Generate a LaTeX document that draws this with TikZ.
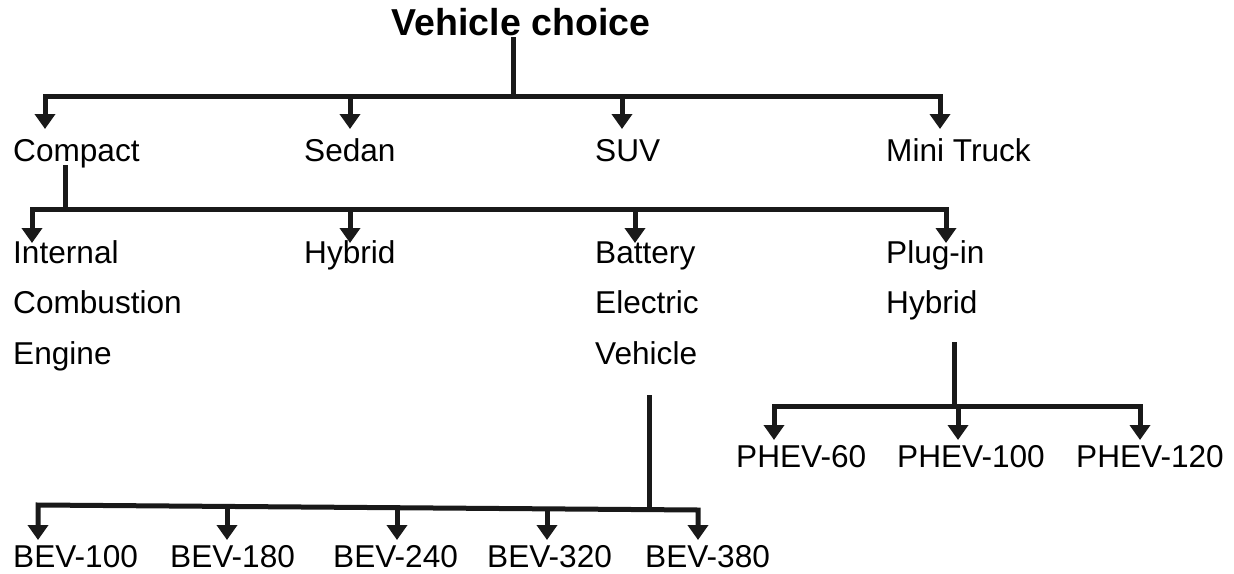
\documentclass[tikz,border=0pt]{standalone}
\usepackage{fontspec}
\setmainfont{Liberation Sans}
\usetikzlibrary{arrows.meta}
\begin{document}
\begin{tikzpicture}[x=1pt,y=-1pt,
  lbl/.style={anchor=base west, inner sep=0pt, font=\fontsize{31.6}{50.5}\selectfont, align=left},
  ttl/.style={anchor=base, inner sep=0pt, font=\bfseries\fontsize{37.5}{44}\selectfont},
  bus/.style={line width=5pt, line join=miter, draw=black!90},
  arr/.style={bus, -{Triangle[width=20pt,length=15pt]}},
  arrs/.style={bus, {Triangle[width=20pt,length=15pt]}-{Triangle[width=20pt,length=15pt]}}]
\useasboundingbox (0,0) rectangle (1234,573);

% texts (multi-line nodes are placed by the baseline of their last line)
\node[ttl] (title) at (521,35) {Vehicle choice};
\node[lbl] (compact) at (13,161) {Compact};
\node[lbl] (sedan) at (304,161) {Sedan};
\node[lbl] (suv) at (595,161) {SUV};
\node[lbl] (truck) at (886,161) {Mini Truck};
\node[lbl] (ice) at (13,364) {Internal\\Combustion\\Engine};
\node[lbl] (hybrid) at (304,263) {Hybrid};
\node[lbl] (bev) at (595,364) {Battery\\Electric\\Vehicle};
\node[lbl] (phev) at (886,313.5) {Plug-in\\Hybrid};
\node[lbl] (p60) at (736,467) {PHEV-60};
\node[lbl] (p100) at (897,467) {PHEV-100};
\node[lbl] (p120) at (1076,467) {PHEV-120};
\node[lbl] (b100) at (13,567) {BEV-100};
\node[lbl] (b180) at (170,567) {BEV-180};
\node[lbl] (b240) at (333,567) {BEV-240};
\node[lbl] (b320) at (487,567) {BEV-320};
\node[lbl] (b380) at (645,567) {BEV-380};

% level 1
\coordinate (t0) at (513,37);
\coordinate (t1) at (513,96);
\coordinate (a1) at (45,129);
\coordinate (a2) at (350,129);
\coordinate (a3) at (622,129);
\coordinate (a4) at (940,129);
\draw[bus] (t0) -- (t1);
\draw[arrs] (a1) -- (a1 |- t1) -- (a4 |- t1) -- (a4);
\draw[arr] (a2 |- t1) -- (a2);
\draw[arr] (a3 |- t1) -- (a3);

% level 2
\coordinate (c0) at (65,165);
\coordinate (c1) at (65,209);
\coordinate (b1) at (32,243);
\coordinate (b2) at (350,243);
\coordinate (b3) at (635,243);
\coordinate (b4) at (946,243);
\draw[bus] (c0) -- (c1);
\draw[arrs] (b1) -- (b1 |- c1) -- (b4 |- c1) -- (b4);
\draw[arr] (b2 |- c1) -- (b2);
\draw[arr] (b3 |- c1) -- (b3);

% PHEV
\coordinate (p0) at (954,342);
\coordinate (pj) at (954,406);
\coordinate (q1) at (774,440);
\coordinate (q2) at (958,440);
\coordinate (q3) at (1140,440);
\draw[bus] (p0) -- (pj);
\draw[arrs] (q1) -- (q1 |- pj) -- (q3 |- pj) -- (q3);
\draw[arr] (q2 |- pj) -- (q2);

% BEV (bus slopes slightly downwards to the right)
\coordinate (e0) at (649,395);
\coordinate (ej) at (649,509.5);
\coordinate (eL) at (38,505);
\coordinate (eR) at (698,510);
\coordinate (r1) at (38,540);
\coordinate (r2) at (227,540);
\coordinate (r3) at (397,540);
\coordinate (r4) at (547,540);
\coordinate (r5) at (698,540);
\draw[bus] (e0) -- (ej);
\draw[arrs] (r1) -- (eL) -- (eR) -- (r5);
\draw[arr] (227,506.4) -- (r2);
\draw[arr] (397,507.7) -- (r3);
\draw[arr] (547,508.8) -- (r4);
\end{tikzpicture}
\end{document}
